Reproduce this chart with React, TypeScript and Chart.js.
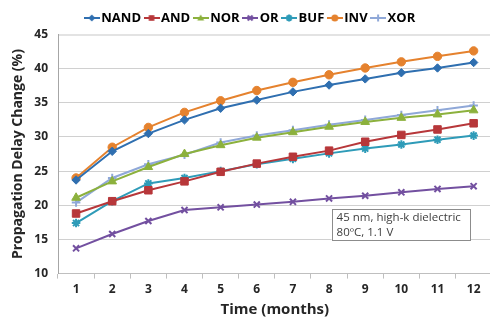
import React, { useEffect, useRef } from "react";
import { Chart, registerables } from "chart.js";
Chart.register(...registerables);

const months = ["1", "2", "3", "4", "5", "6", "7", "8", "9", "10", "11", "12"];
const nand = [23.7, 27.9, 30.5, 32.5, 34.2, 35.4, 36.6, 37.6, 38.5, 39.4, 40.1, 40.9];
const andG = [18.8, 20.6, 22.2, 23.5, 24.9, 26.1, 27.1, 28.0, 29.3, 30.3, 31.1, 32.0];
const nor = [21.1, 23.5, 25.6, 27.5, 28.8, 29.9, 30.7, 31.5, 32.2, 32.8, 33.3, 33.9];
const orG = [13.7, 15.8, 17.7, 19.3, 19.7, 20.1, 20.5, 21.0, 21.4, 21.9, 22.4, 22.8];
const buf = [17.4, 20.6, 23.2, 24.0, 25.0, 26.0, 26.8, 27.6, 28.3, 28.9, 29.6, 30.2];
const inv = [24.0, 28.5, 31.4, 33.6, 35.3, 36.8, 38.0, 39.1, 40.1, 41.0, 41.8, 42.6];
const xor = [20.4, 24.0, 26.0, 27.4, 29.2, 30.2, 31.0, 31.8, 32.5, 33.2, 33.9, 34.6];
const yTicks = [10, 15, 20, 25, 30, 35, 40, 45];
const noteLines = ["45 nm, high-k dielectric", "80ºC, 1.1 V"];

const series = [
  { label: "NAND", data: nand, color: "#2F6FB0", style: "rectRot", r: 4.2 },
  { label: "AND", data: andG, color: "#B7373A", style: "rect", r: 5.3 },
  { label: "NOR", data: nor, color: "#8CB13D", style: "triangle", r: 5 },
  { label: "OR", data: orG, color: "#7350A0", style: "crossRot", r: 4.3 },
  { label: "BUF", data: buf, color: "#2E9BB8", style: "star", r: 4.3 },
  { label: "INV", data: inv, color: "#E5822E", style: "circle", r: 4.2 },
  { label: "XOR", data: xor, color: "#8FA8D8", style: "cross", r: 4.3 },
];

function drawMarker(ctx: CanvasRenderingContext2D, style: string, x: number, y: number, r: number) {
  ctx.beginPath();
  if (style === "circle") {
    ctx.arc(x, y, r, 0, Math.PI * 2);
    ctx.fill();
  } else if (style === "rect") {
    ctx.fillRect(x - r * 0.8, y - r * 0.8, r * 1.6, r * 1.6);
  } else if (style === "rectRot") {
    ctx.moveTo(x, y - r);
    ctx.lineTo(x + r, y);
    ctx.lineTo(x, y + r);
    ctx.lineTo(x - r, y);
    ctx.closePath();
    ctx.fill();
  } else if (style === "triangle") {
    ctx.moveTo(x, y - r);
    ctx.lineTo(x + r, y + r * 0.7);
    ctx.lineTo(x - r, y + r * 0.7);
    ctx.closePath();
    ctx.fill();
  } else if (style === "crossRot") {
    ctx.moveTo(x - r * 0.7, y - r * 0.7);
    ctx.lineTo(x + r * 0.7, y + r * 0.7);
    ctx.moveTo(x + r * 0.7, y - r * 0.7);
    ctx.lineTo(x - r * 0.7, y + r * 0.7);
    ctx.stroke();
  } else if (style === "cross") {
    ctx.moveTo(x, y - r);
    ctx.lineTo(x, y + r);
    ctx.moveTo(x - r, y);
    ctx.lineTo(x + r, y);
    ctx.stroke();
  } else if (style === "star") {
    ctx.moveTo(x, y - r);
    ctx.lineTo(x, y + r);
    ctx.moveTo(x - r, y);
    ctx.lineTo(x + r, y);
    ctx.moveTo(x - r * 0.7, y - r * 0.7);
    ctx.lineTo(x + r * 0.7, y + r * 0.7);
    ctx.moveTo(x + r * 0.7, y - r * 0.7);
    ctx.lineTo(x - r * 0.7, y + r * 0.7);
    ctx.stroke();
  }
}

function legendIcon(color: string, style: string): HTMLCanvasElement {
  const c = document.createElement("canvas");
  c.width = 16;
  c.height = 12;
  const ctx = c.getContext("2d")!;
  ctx.strokeStyle = color;
  ctx.fillStyle = color;
  ctx.lineWidth = 2;
  ctx.beginPath();
  ctx.moveTo(0, 6);
  ctx.lineTo(16, 6);
  ctx.stroke();
  drawMarker(ctx, style, 8, 6, 3.5);
  return c;
}

const notePlugin = {
  id: "note",
  afterDraw(chart: any) {
    const { ctx, scales } = chart;
    const x0 = scales.x.getPixelForValue(7.07);
    const x1 = scales.x.getPixelForValue(10.9);
    const y0 = scales.y.getPixelForValue(19.45);
    const y1 = scales.y.getPixelForValue(14.9);
    ctx.save();
    ctx.fillStyle = "#ffffff";
    ctx.fillRect(x0, y0, x1 - x0, y1 - y0);
    ctx.strokeStyle = "#8c8c8c";
    ctx.lineWidth = 1;
    ctx.strokeRect(Math.round(x0) + 0.5, Math.round(y0) + 0.5, Math.round(x1 - x0), Math.round(y1 - y0));
    ctx.fillStyle = "#404040";
    ctx.font = "11.5px 'Open Sans'";
    ctx.textBaseline = "middle";
    ctx.fillText(noteLines[0], x0 + 5, y0 + 9);
    ctx.fillText(noteLines[1], x0 + 5, y0 + 23.5);
    ctx.restore();
  },
};

export default function App() {
  const ref = useRef<HTMLCanvasElement>(null);
  useEffect(() => {
    const icons = series.map((s) => legendIcon(s.color, s.style));
    const chart = new Chart(ref.current!, {
      type: "line",
      data: {
        labels: months,
        datasets: series.map((s) => ({
          label: s.label,
          data: s.data,
          borderColor: s.color,
          backgroundColor: s.color,
          pointBackgroundColor: s.color,
          pointBorderColor: s.color,
          pointStyle: s.style as any,
          pointRadius: s.r,
          pointBorderWidth: s.style === "crossRot" || s.style === "cross" || s.style === "star" ? 2 : 1,
          borderWidth: 2,
          tension: 0,
        })),
      },
      options: {
        animation: false,
        responsive: false,
        layout: { padding: { top: 4, right: 0, left: 6, bottom: 5 } },
        plugins: {
          tooltip: { enabled: false },
          legend: {
            position: "top",
            labels: {
              usePointStyle: true,
              pointStyleWidth: 6,
              padding: 7.5,
              color: "#262626",
              font: { family: "'Open Sans'", size: 13, weight: "bold" },
              generateLabels: () =>
                series.map((s, i) => ({
                  text: s.label,
                  fillStyle: s.color,
                  strokeStyle: s.color,
                  lineWidth: 0,
                  pointStyle: icons[i],
                  hidden: false,
                  datasetIndex: i,
                })),
            },
          },
        },
        scales: {
          x: {
            offset: true,
            grid: {
              offset: true,
              drawOnChartArea: false,
              drawTicks: true,
              tickLength: 5,
              color: "#bfbfbf",
            },
            border: { color: "#bfbfbf" },
            ticks: {
              color: "#262626",
              padding: 4,
              font: { family: "'Open Sans'", size: 12, weight: "bold" },
            },
            title: {
              display: true,
              text: "Time (months)",
              color: "#262626",
              padding: { top: 0, bottom: 0 },
              font: { family: "'Open Sans'", size: 15, weight: "bold" },
            },
          },
          y: {
            min: 10,
            max: 45,
            afterFit: (axis: any) => {
              axis.width = 52;
            },
            afterBuildTicks: (axis: any) => {
              axis.ticks = yTicks.map((v) => ({ value: v }));
            },
            grid: {
              drawTicks: false,
              color: (c: any) => (c.tick && c.tick.value === 45 ? "#e3e3e3" : "#d0d0d0"),
              lineWidth: (c: any) => (c.tick && c.tick.value === 45 ? 2 : 1),
            },
            border: { color: "#a6a6a6" },
            ticks: {
              color: "#262626",
              padding: 10,
              font: { family: "'Open Sans'", size: 12, weight: "bold" },
            },
            title: {
              display: true,
              text: "Propagation Delay Change (%)",
              color: "#262626",
              padding: { top: 4, bottom: 2 },
              font: { family: "'Open Sans'", size: 14, weight: "bold" },
            },
          },
        },
      },
      plugins: [notePlugin],
    } as any);
    return () => chart.destroy();
  }, []);
  return (
    <div style={{ position: "fixed", left: 0, top: 0, width: 490, height: 324, overflow: "hidden", background: "#fff" }}>
      <canvas ref={ref} width={498} height={324} style={{ width: 498, height: 324 }} />
    </div>
  );
}
